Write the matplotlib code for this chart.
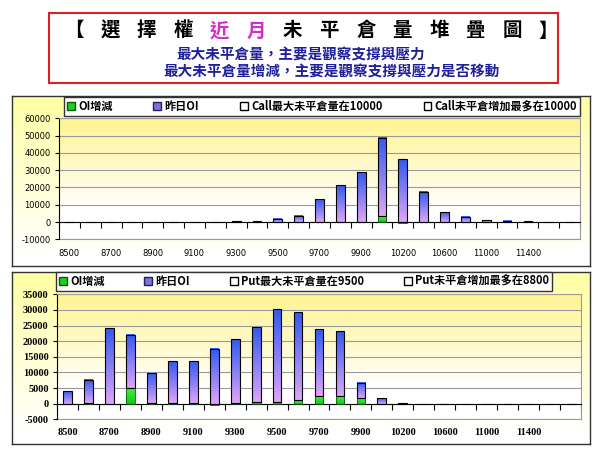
import numpy as np
import matplotlib
matplotlib.use('Agg')
import matplotlib.pyplot as plt
from matplotlib.patches import Patch, Rectangle

plt.rcParams['font.family'] = ['Noto Sans CJK TC', 'DejaVu Sans']

# 履約價 (x 軸類別)
strikes = ['8500', '8600', '8700', '8800', '8900', '9000', '9100', '9200',
           '9300', '9400', '9500', '9600', '9700', '9800', '9900', '10000',
           '10200', '10400', '10600', '10800', '11000', '11200', '11400',
           '11600', '11800']

# Call: OI增減 / 昨日OI
call_chg = [0, 0, 0, 0, 0, 0, 0, 0, 0, 0, 0, 0, 0, 200, 0, 3200,
            -300, 0, 0, 0, 0, 0, 0, 0, 0]
call_oi = [0, 0, 0, 0, 0, 0, 0, 0, 500, 400, 1900, 3600, 13250, 20950, 28850, 45300,
           36350, 17500, 5750, 2900, 1150, 600, 400, 0, 0]

# Put: OI增減 / 昨日OI
put_chg = [0, 200, 0, 5100, 300, 200, 200, -300, 200, 500, 550, 1280, 2560, 2560, 1800, 0,
           0, 0, 0, 0, 0, 0, 0, 0, 0]
put_oi = [3950, 7400, 24300, 17000, 9500, 13400, 13400, 17650, 20350, 23900, 29650, 28100,
          21200, 20550, 4800, 1800, 300, 0, 0, 0, 0, 0, 0, 0, 0]

call_labels = ['OI增減', '昨日OI', 'Call最大未平倉量在10000', 'Call未平倉增加最多在10000']
put_labels = ['OI增減', '昨日OI', 'Put最大未平倉量在9500', 'Put未平倉增加最多在8800']

title_chars = list('【選擇權近月未平倉量堆疊圖】')
highlight = '近月'
sub1 = '最大未平倉量，主要是觀察支撐與壓力'
sub2 = '最大未平倉量增減，主要是觀察支撐與壓力是否移動'

W, H = 600, 450
fig = plt.figure(figsize=(6, 4.5), dpi=100)


def box(x0, y0, x1, y1):
    # pixel box (top-left origin) -> figure rect
    return [x0 / W, 1 - y1 / H, (x1 - x0) / W, (y1 - y0) / H]


def vgrad(top, bottom, n=64, stop=1.0):
    t = np.clip(np.linspace(0, 1, n) / stop, 0, 1)[:, None]
    c = np.array(top)[None, :] * (1 - t) + np.array(bottom)[None, :] * t
    return c[:, None, :] / 255


def fill(ax, bars, top, bot):
    # gradient inside each bar
    for r in bars:
        h = r.get_height()
        if h == 0:
            continue
        x0, y0 = r.get_x(), r.get_y()
        ax.imshow(vgrad(top, bot), extent=[x0, x0 + r.get_width(), min(y0, y0 + h), max(y0, y0 + h)],
                  aspect='auto', zorder=2, interpolation='bilinear')
        r.set_facecolor('none')


def panel(rect):
    bg = fig.add_axes(box(*rect))
    bg.imshow(vgrad((255, 255, 165), (255, 255, 255), stop=0.95), extent=[0, 1, 0, 1], aspect='auto')
    bg.set_xticks([])
    bg.set_yticks([])
    for s in bg.spines.values():
        s.set_color('#333333')
        s.set_linewidth(1)


def chart(rect, chg, oi, ylim, step, font, xpad):
    ax = fig.add_axes(box(*rect))
    ax.set_facecolor('none')
    ax.imshow(vgrad((255, 244, 145), (255, 255, 255), stop=0.75), extent=[0, 1, 0, 1],
              transform=ax.transAxes, aspect='auto', zorder=0)
    x = np.arange(len(strikes))
    chg = np.array(chg)
    base = np.where(chg > 0, chg, 0)
    g = ax.bar(x, chg, 0.42, edgecolor='#0a5a0a', lw=0.6, zorder=3)
    p = ax.bar(x, oi, 0.42, bottom=base, edgecolor='black', lw=0.8, zorder=3)
    fill(ax, g, (70, 240, 70), (20, 200, 20))
    fill(ax, p, (50, 90, 240), (222, 165, 248))

    ax.set_xlim(-0.5, len(strikes) - 0.5)
    ax.set_ylim(*ylim)
    yt = np.arange(ylim[0], ylim[1] + 1, step)
    ax.set_yticks(yt, labels=[str(v) for v in yt], **font)
    ax.tick_params(axis='y', length=3, width=0.8, pad=3)
    ax.yaxis.grid(True, color='#9a9a9a', lw=0.8)
    ax.set_axisbelow(True)

    # category axis crosses at 0, labels at the low end
    ax.spines['bottom'].set_position(('data', 0))
    ax.spines['bottom'].set_color('black')
    ax.set_xticks(np.arange(len(strikes) + 1) - 0.5)
    ax.tick_params(axis='x', length=4, width=0.8, direction='out', labelbottom=False)
    for s in ['top', 'right']:
        ax.spines[s].set_color('#9a9a9a')
    ax.spines['left'].set_color('black')

    sec = ax.secondary_xaxis(0.0)
    sec.set_xticks(x[0:23:2], labels=strikes[0:23:2], **font)
    sec.tick_params(length=0, pad=xpad)
    sec.spines['bottom'].set_color('#9a9a9a')
    return ax


def legend(labels, rect):
    handles = [Patch(fc='#22cc22', ec='#0a5a0a'), Patch(fc='#8070e0', ec='#222255'),
               Patch(fc='white', ec='black'), Patch(fc='white', ec='black')]
    x0, y0, x1, y1 = rect
    fig.legend(handles, labels, loc='upper left', bbox_to_anchor=(x0 / W, 1 - y1 / H, (x1 - x0) / W, (y1 - y0) / H),
               mode='expand', ncol=4, borderaxespad=0, borderpad=0.25, handlelength=0.7, handleheight=0.7,
               handletextpad=0.3, fancybox=False, edgecolor='#333333', framealpha=1,
               prop={'family': ['Noto Sans CJK TC', 'DejaVu Sans'], 'weight': 'bold', 'size': 8})


# 標題
fig.add_artist(Rectangle((49 / W, 1 - 83 / H), 509 / W, 70 / H, transform=fig.transFigure,
                         fc='white', ec='#dd2222', lw=1.5))
for ch, xx in zip(title_chars, np.linspace(73.5, 548.5, len(title_chars))):
    fig.text(xx / W, 1 - 31 / H, ch, fontsize=14, weight='bold', ha='center', va='center',
             color='#d030c8' if ch in highlight else 'black')
fig.text(301 / W, 1 - 55 / H, sub1, fontsize=10.5, weight='bold', color='#1f1f9a', ha='center', va='center')
fig.text(332 / W, 1 - 72 / H, sub2, fontsize=10.5, weight='bold', color='#1f1f9a', ha='center', va='center')

# Call
panel((12, 96, 590, 266))
chart((59, 118.3, 580, 239.3), call_chg, call_oi, (-10000, 60000), 10000,
      {'fontsize': 6, 'family': 'DejaVu Sans'}, 7)
legend(call_labels, (64, 97, 580, 114))

# Put
panel((12, 272, 590, 444))
chart((57, 294.3, 581, 419.3), put_chg, put_oi, (-5000, 35000), 5000,
      {'fontsize': 7.5, 'family': 'Liberation Serif', 'weight': 'bold'}, 6)
legend(put_labels, (56, 272, 552, 288))

fig.savefig('out.png', dpi=100)
